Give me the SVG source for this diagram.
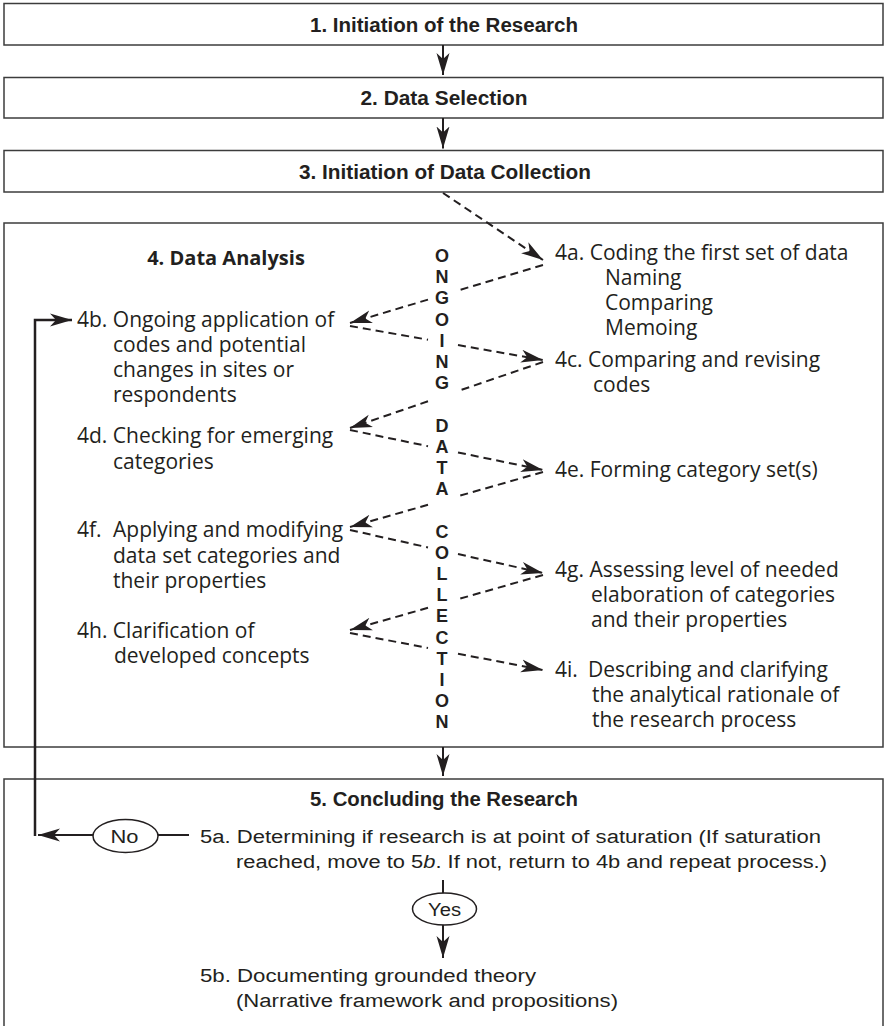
<svg xmlns="http://www.w3.org/2000/svg" width="885" height="1026" viewBox="0 0 885 1026">
<defs>
<marker id="ah" markerUnits="userSpaceOnUse" markerWidth="22" markerHeight="14" refX="22" refY="7" orient="auto">
<path d="M0,0.5 L22,7 L0,13.5 L6,7 Z" fill="#231f20"/>
</marker>
<style>
.box{fill:#fff;stroke:#3c3c3c;stroke-width:1.5}
.solid{fill:none;stroke:#231f20;stroke-width:2}
.fb{fill:none;stroke:#231f20;stroke-width:2.5}
.dash{fill:none;stroke:#231f20;stroke-width:2;stroke-dasharray:8 5}
.ell{fill:#fff;stroke:#231f20;stroke-width:1.5}
.hb{font-family:"Liberation Sans",Arial,sans-serif;font-weight:bold;font-size:20px;fill:#231f20;text-anchor:middle}
.c{font-family:"Liberation Sans",Arial,sans-serif;font-size:18px;fill:#231f20}
.cm{font-family:"Liberation Sans",Arial,sans-serif;font-size:18px;fill:#231f20;text-anchor:middle}
.t{font-family:"Open Sans",sans-serif;font-size:21px;fill:#231f20}
.tb{font-family:"Open Sans",sans-serif;font-weight:bold;font-size:20px;fill:#231f20;text-anchor:middle}
.v{font-family:"Liberation Sans",Arial,sans-serif;font-weight:bold;font-size:18px;fill:#231f20;text-anchor:middle}
</style>
</defs>
<rect width="885" height="1026" fill="#fff"/>

<g id="n1">
<rect class="box" x="4" y="3.5" width="879" height="41.5"/>
<text class="hb" x="444" y="31.5" textLength="268" lengthAdjust="spacingAndGlyphs">1. Initiation of the Research</text>
</g>
<g id="n2">
<rect class="box" x="4" y="77.5" width="879" height="40.5"/>
<text class="hb" x="444" y="105" textLength="167" lengthAdjust="spacingAndGlyphs">2. Data Selection</text>
</g>
<g id="n3">
<rect class="box" x="4" y="150.5" width="879" height="41.5"/>
<text class="hb" x="445" y="178.5" textLength="292" lengthAdjust="spacingAndGlyphs">3. Initiation of Data Collection</text>
</g>

<g id="n4">
<rect class="box" x="4" y="223" width="879" height="524"/>
<text class="tb" x="226" y="265">4. Data Analysis</text>
<text class="v" x="442" y="262">O<tspan x="442" dy="21.2">N</tspan><tspan x="442" dy="21.2">G</tspan><tspan x="442" dy="21.2">O</tspan><tspan x="442" dy="21.2">I</tspan><tspan x="442" dy="21.2">N</tspan><tspan x="442" dy="21.2">G</tspan><tspan x="442" dy="42.4">D</tspan><tspan x="442" dy="21.2">A</tspan><tspan x="442" dy="21.2">T</tspan><tspan x="442" dy="21.2">A</tspan><tspan x="442" dy="42.4">C</tspan><tspan x="442" dy="21.2">O</tspan><tspan x="442" dy="21.2">L</tspan><tspan x="442" dy="21.2">L</tspan><tspan x="442" dy="21.2">E</tspan><tspan x="442" dy="21.2">C</tspan><tspan x="442" dy="21.2">T</tspan><tspan x="442" dy="21.2">I</tspan><tspan x="442" dy="21.2">O</tspan><tspan x="442" dy="21.2">N</tspan></text>
</g>

<g id="n4a">
<text class="t" x="555" y="260">4a. Coding the first set of data</text>
<text class="t" x="605" y="285">Naming</text>
<text class="t" x="605" y="310">Comparing</text>
<text class="t" x="605" y="335">Memoing</text>
</g>
<g id="n4b">
<text class="t" x="77" y="327">4b. Ongoing application of</text>
<text class="t" x="113" y="352">codes and potential</text>
<text class="t" x="113" y="377">changes in sites or</text>
<text class="t" x="113" y="402">respondents</text>
</g>
<g id="n4c">
<text class="t" x="555" y="367">4c. Comparing and revising</text>
<text class="t" x="593" y="392">codes</text>
</g>
<g id="n4d">
<text class="t" x="77" y="443">4d. Checking for emerging</text>
<text class="t" x="113" y="469">categories</text>
</g>
<g id="n4e">
<text class="t" x="555" y="477">4e. Forming category set(s)</text>
</g>
<g id="n4f">
<text class="t" x="77" y="537">4f.</text>
<text class="t" x="113" y="537">Applying and modifying</text>
<text class="t" x="113" y="563">data set categories and</text>
<text class="t" x="113" y="588">their properties</text>
</g>
<g id="n4g">
<text class="t" x="555" y="577">4g. Assessing level of needed</text>
<text class="t" x="591" y="602">elaboration of categories</text>
<text class="t" x="591" y="627">and their properties</text>
</g>
<g id="n4h">
<text class="t" x="77" y="638">4h. Clarification of</text>
<text class="t" x="114" y="663">developed concepts</text>
</g>
<g id="n4i">
<text class="t" x="555" y="677">4i.</text>
<text class="t" x="588" y="677">Describing and clarifying</text>
<text class="t" x="592" y="702">the analytical rationale of</text>
<text class="t" x="592" y="727">the research process</text>
</g>

<g id="n5">
<rect class="box" x="4" y="779" width="879" height="252"/>
<text class="hb" x="444" y="806" textLength="268" lengthAdjust="spacingAndGlyphs">5. Concluding the Research</text>
</g>
<g id="n5a">
<text class="c" x="200" y="843" textLength="621" lengthAdjust="spacingAndGlyphs">5a. Determining if research is at point of saturation (If saturation</text>
<text class="c" x="236" y="868" textLength="591" lengthAdjust="spacingAndGlyphs">reached, move to 5<tspan font-style="italic">b</tspan>. If not, return to 4b and repeat process.)</text>
</g>
<g id="n5b">
<text class="c" x="200" y="982" textLength="336" lengthAdjust="spacingAndGlyphs">5b. Documenting grounded theory</text>
<text class="c" x="236" y="1007" textLength="382" lengthAdjust="spacingAndGlyphs">(Narrative framework and propositions)</text>
</g>
<g id="no">
<ellipse class="ell" cx="125.5" cy="836" rx="32.5" ry="16.5"/>
<text class="cm" x="124.5" y="843" textLength="28" lengthAdjust="spacingAndGlyphs">No</text>
</g>
<g id="yes">
<ellipse class="ell" cx="444.5" cy="909" rx="32" ry="16"/>
<text class="cm" x="444.5" y="916" textLength="33" lengthAdjust="spacingAndGlyphs">Yes</text>
</g>

<g id="connectors">
<path class="solid" d="M443,45 V75" marker-end="url(#ah)"/>
<path class="solid" d="M443,118 V148.5" marker-end="url(#ah)"/>
<path class="solid" d="M443,747 V776" marker-end="url(#ah)"/>
<path class="dash" d="M443,193 L543,260" marker-end="url(#ah)"/>
<path class="dash" d="M543,265 L458,290.5 M428,299.6 L350,323" marker-end="url(#ah)"/>
<path class="dash" d="M350,326 L428,339.7 M458,345 L543,360" marker-end="url(#ah)"/>
<path class="dash" d="M543,362 L458,391 M428,401.3 L350,428" marker-end="url(#ah)"/>
<path class="dash" d="M350,430 L428,446.2 M458,452.4 L543,470" marker-end="url(#ah)"/>
<path class="dash" d="M543,472 L458,496.2 M428,504.8 L350,527" marker-end="url(#ah)"/>
<path class="dash" d="M350,530 L428,547.4 M458,554.1 L543,573" marker-end="url(#ah)"/>
<path class="dash" d="M543,575 L458,599.2 M428,607.8 L350,630" marker-end="url(#ah)"/>
<path class="dash" d="M350,633 L428,648 M458,653.7 L543,670" marker-end="url(#ah)"/>
<path class="fb" d="M35,836 V320 H72" marker-end="url(#ah)"/>
<path class="solid" d="M93,835 H38" marker-end="url(#ah)"/>
<path class="solid" d="M158,835 H189"/>
<path class="solid" d="M443,880 V893"/>
<path class="solid" d="M443,925 V958" marker-end="url(#ah)"/>
</g>
</svg>
